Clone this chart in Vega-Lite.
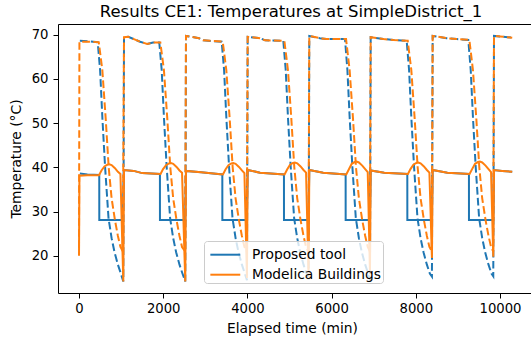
{
"$schema": "https://vega.github.io/schema/vega-lite/v6.json",
"autosize": {"type": "none"},
"width": 473,
"height": 269,
"padding": {"left": 58, "top": 24, "right": 0, "bottom": 52},
"background": "white",
"config": {
  "font": "DejaVu Sans",
  "view": {"stroke": "black", "strokeWidth": 1},
  "axis": {"domain": false, "grid": false, "tickColor": "black", "tickSize": 5, "tickWidth": 1, "labelColor": "black", "labelFontSize": 13.2, "labelFont": "DejaVu Sans", "titleFont": "DejaVu Sans", "titleFontSize": 13.8, "titleFontWeight": "normal", "titleColor": "black"}
},
"title": {"text": "Results CE1: Temperatures at SimpleDistrict_1", "fontSize": 16.5, "fontWeight": "normal", "font": "DejaVu Sans", "color": "black", "anchor": "middle", "frame": "group", "baseline": "alphabetic", "offset": -9, "dx": -3.5},
"datasets": {
  "bs": [
    {"t":20,"v":38.6},{"t":200,"v":38.4},{"t":481,"v":38.3},{"t":482,"v":28.1},{"t":1040,"v":28.1},
    {"t":1069,"v":39.4},{"t":1300,"v":39.2},{"t":1500,"v":38.7},{"t":1922,"v":38.5},{"t":1923,"v":28.1},{"t":2521,"v":28.1},
    {"t":2541,"v":39.2},{"t":2900,"v":38.9},{"t":3404,"v":38.4},{"t":3405,"v":28.1},{"t":3986,"v":28.1},
    {"t":4006,"v":39.4},{"t":4300,"v":38.8},{"t":4868,"v":38.4},{"t":4869,"v":28.1},{"t":5450,"v":28.1},
    {"t":5470,"v":39.4},{"t":5800,"v":38.8},{"t":6333,"v":38.4},{"t":6334,"v":28.1},{"t":6908,"v":28.1},
    {"t":6928,"v":39.3},{"t":7250,"v":38.8},{"t":7798,"v":38.5},{"t":7799,"v":28.1},{"t":8380,"v":28.1},
    {"t":8400,"v":39.4},{"t":8750,"v":38.8},{"t":9262,"v":38.5},{"t":9263,"v":28.1},{"t":9837,"v":28.1},
    {"t":9857,"v":39.4},{"t":10050,"v":39.2},{"t":10290,"v":39.0}
  ],
  "bd": [
    {"t":20,"v":68.6},{"t":250,"v":68.5},{"t":444,"v":68.3},{"t":501,"v":62},{"t":556,"v":51},{"t":620,"v":40},{"t":701,"v":28.5},{"t":774,"v":24},{"t":844,"v":20.8},{"t":924,"v":18},{"t":994,"v":16},{"t":1052,"v":14.2},
    {"t":1069,"v":69.4},{"t":1170,"v":69.5},{"t":1450,"v":68.4},{"t":1620,"v":67.9},{"t":1760,"v":68.2},{"t":1907,"v":68.2},{"t":1964,"v":62},{"t":2019,"v":51},{"t":2083,"v":40},{"t":2164,"v":28.5},{"t":2237,"v":24},{"t":2307,"v":20.8},{"t":2387,"v":18},{"t":2457,"v":16},{"t":2524,"v":14.2},
    {"t":2541,"v":69.7},{"t":2850,"v":69.2},{"t":2950,"v":68.7},{"t":3389,"v":68.4},{"t":3446,"v":62},{"t":3501,"v":51},{"t":3565,"v":40},{"t":3646,"v":28.5},{"t":3719,"v":24},{"t":3789,"v":20.8},{"t":3869,"v":18},{"t":3939,"v":16},{"t":3989,"v":14.5},
    {"t":4006,"v":69.5},{"t":4300,"v":69.2},{"t":4420,"v":68.7},{"t":4853,"v":68.6},{"t":4910,"v":62},{"t":4965,"v":51},{"t":5029,"v":40},{"t":5110,"v":28.5},{"t":5183,"v":24},{"t":5253,"v":20.8},{"t":5333,"v":18},{"t":5403,"v":16},{"t":5453,"v":14.5},
    {"t":5470,"v":69.7},{"t":5720,"v":69.2},{"t":5880,"v":69.0},{"t":6318,"v":69.0},{"t":6375,"v":62},{"t":6430,"v":51},{"t":6494,"v":40},{"t":6575,"v":28.5},{"t":6648,"v":24},{"t":6718,"v":20.8},{"t":6798,"v":18},{"t":6868,"v":16},{"t":6911,"v":14.6},
    {"t":6928,"v":69.4},{"t":7230,"v":69.0},{"t":7470,"v":68.8},{"t":7783,"v":68.6},{"t":7840,"v":62},{"t":7895,"v":51},{"t":7959,"v":40},{"t":8040,"v":28.5},{"t":8113,"v":24},{"t":8183,"v":20.8},{"t":8263,"v":18},{"t":8333,"v":16},{"t":8383,"v":15.3},
    {"t":8400,"v":69.7},{"t":8730,"v":69.2},{"t":8970,"v":69.0},{"t":9247,"v":68.8},{"t":9304,"v":62},{"t":9359,"v":51},{"t":9423,"v":40},{"t":9504,"v":28.5},{"t":9577,"v":24},{"t":9647,"v":20.8},{"t":9727,"v":18},{"t":9797,"v":16},{"t":9840,"v":15.4},
    {"t":9857,"v":69.7},{"t":10000,"v":69.6},{"t":10290,"v":69.3}
  ],
  "os": [
    {"t":0,"v":20},{"t":10,"v":38.1},{"t":200,"v":38.2},{"t":474,"v":38.2},{"t":534,"v":39.3},{"t":604,"v":40.2},{"t":674,"v":40.6},{"t":719,"v":40.7},{"t":774,"v":40.5},{"t":854,"v":39.8},{"t":924,"v":39.0},{"t":984,"v":38.5},{"t":1052,"v":14.2},
    {"t":1069,"v":39.4},{"t":1300,"v":39.2},{"t":1500,"v":38.7},{"t":1937,"v":38.5},{"t":1997,"v":39.6},{"t":2067,"v":40.5},{"t":2137,"v":40.9},{"t":2182,"v":41.0},{"t":2237,"v":40.8},{"t":2317,"v":40.1},{"t":2387,"v":39.3},{"t":2447,"v":38.8},{"t":2524,"v":14.2},
    {"t":2541,"v":39.2},{"t":2900,"v":38.9},{"t":3419,"v":38.4},{"t":3479,"v":39.5},{"t":3549,"v":40.5},{"t":3619,"v":40.9},{"t":3664,"v":41.0},{"t":3719,"v":40.8},{"t":3799,"v":40.1},{"t":3869,"v":39.3},{"t":3929,"v":38.7},{"t":3989,"v":15.0},
    {"t":4006,"v":39.4},{"t":4300,"v":38.8},{"t":4883,"v":38.4},{"t":4943,"v":39.5},{"t":5013,"v":40.6},{"t":5083,"v":41.0},{"t":5128,"v":41.1},{"t":5183,"v":40.9},{"t":5263,"v":40.2},{"t":5333,"v":39.4},{"t":5393,"v":38.8},{"t":5453,"v":15.0},
    {"t":5470,"v":39.4},{"t":5800,"v":38.8},{"t":6348,"v":38.4},{"t":6408,"v":39.5},{"t":6478,"v":40.8},{"t":6548,"v":41.2},{"t":6593,"v":41.3},{"t":6648,"v":41.1},{"t":6728,"v":40.4},{"t":6798,"v":39.6},{"t":6858,"v":38.9},{"t":6911,"v":16.0},
    {"t":6928,"v":39.3},{"t":7250,"v":38.8},{"t":7813,"v":38.5},{"t":7873,"v":39.6},{"t":7943,"v":40.6},{"t":8013,"v":41.0},{"t":8058,"v":41.1},{"t":8113,"v":40.9},{"t":8193,"v":40.2},{"t":8263,"v":39.4},{"t":8323,"v":38.8},{"t":8383,"v":19.5},
    {"t":8400,"v":39.4},{"t":8750,"v":38.8},{"t":9277,"v":38.5},{"t":9337,"v":39.6},{"t":9407,"v":40.8},{"t":9477,"v":41.2},{"t":9522,"v":41.3},{"t":9577,"v":41.1},{"t":9657,"v":40.4},{"t":9727,"v":39.6},{"t":9787,"v":38.9},{"t":9840,"v":19.8},
    {"t":9857,"v":39.4},{"t":10050,"v":39.2},{"t":10290,"v":39.0}
  ],
  "od": [
    {"t":0,"v":21.8},{"t":10,"v":68.4},{"t":250,"v":68.4},{"t":469,"v":68.3},{"t":554,"v":62},{"t":634,"v":51},{"t":705,"v":40},{"t":774,"v":33},{"t":855,"v":28},{"t":924,"v":24.5},{"t":984,"v":22},{"t":1040,"v":21},
    {"t":1069,"v":69.4},{"t":1170,"v":69.5},{"t":1450,"v":68.4},{"t":1620,"v":67.9},{"t":1760,"v":68.2},{"t":1932,"v":68.2},{"t":2017,"v":62},{"t":2097,"v":51},{"t":2168,"v":40},{"t":2237,"v":33},{"t":2318,"v":28},{"t":2387,"v":24.5},{"t":2447,"v":22},{"t":2521,"v":21},
    {"t":2541,"v":69.7},{"t":2850,"v":69.2},{"t":2950,"v":68.7},{"t":3414,"v":68.4},{"t":3499,"v":62},{"t":3579,"v":51},{"t":3650,"v":40},{"t":3719,"v":33},{"t":3800,"v":28},{"t":3869,"v":24.5},{"t":3929,"v":22},{"t":3986,"v":21},
    {"t":4006,"v":69.5},{"t":4300,"v":69.2},{"t":4420,"v":68.7},{"t":4878,"v":68.6},{"t":4963,"v":62},{"t":5043,"v":51},{"t":5114,"v":40},{"t":5183,"v":33},{"t":5264,"v":28},{"t":5333,"v":24.5},{"t":5393,"v":22},{"t":5450,"v":21},
    {"t":5470,"v":69.7},{"t":5720,"v":69.2},{"t":5880,"v":69.0},{"t":6343,"v":69.0},{"t":6428,"v":62},{"t":6508,"v":51},{"t":6579,"v":40},{"t":6648,"v":33},{"t":6729,"v":28},{"t":6798,"v":24.5},{"t":6858,"v":22},{"t":6908,"v":21},
    {"t":6928,"v":69.4},{"t":7230,"v":69.0},{"t":7470,"v":68.8},{"t":7808,"v":68.6},{"t":7893,"v":62},{"t":7973,"v":51},{"t":8044,"v":40},{"t":8113,"v":33},{"t":8194,"v":28},{"t":8263,"v":24.5},{"t":8323,"v":22},{"t":8380,"v":21},
    {"t":8400,"v":69.7},{"t":8730,"v":69.2},{"t":8970,"v":69.0},{"t":9272,"v":68.8},{"t":9357,"v":62},{"t":9437,"v":51},{"t":9508,"v":40},{"t":9577,"v":33},{"t":9658,"v":28},{"t":9727,"v":24.5},{"t":9787,"v":22},{"t":9837,"v":21},
    {"t":9857,"v":69.7},{"t":10000,"v":69.6},{"t":10290,"v":69.3}
  ]
},
"encoding": {
  "x": {"field": "t", "type": "quantitative", "scale": {"domain": [-499, 10736], "nice": false, "zero": false}, "axis": {"values": [0, 2000, 4000, 6000, 8000, 10000], "format": "d", "title": "Elapsed time (min)", "labelPadding": 4, "titleX": 234, "titleY": 39, "titleBaseline": "alphabetic"}},
  "y": {"field": "v", "type": "quantitative", "scale": {"domain": [11.6, 72.4], "nice": false, "zero": false}, "axis": {"values": [20, 30, 40, 50, 60, 70], "title": "Temperature (°C)", "labelPadding": 5, "titleX": -38, "titleBaseline": "alphabetic"}},
  "color": {"datum": "Proposed tool", "type": "nominal", "scale": {"domain": ["Proposed tool", "Modelica Buildings"], "range": ["#1f77b4", "#ff7f0e"]},
    "legend": {"title": null, "orient": "none", "legendX": 146, "legendY": 217, "symbolType": "M-1.3,0H1.3", "symbolSize": 529, "symbolOffset": 7.6, "symbolStrokeWidth": 2, "symbolDash": [], "labelFontSize": 13.8, "labelFont": "DejaVu Sans", "labelColor": "black", "labelOffset": 14.2, "padding": 1.2, "rowPadding": -2.4, "fillColor": "rgba(255,255,255,0.8)", "strokeColor": "#cccccc", "cornerRadius": 3}}
},
"layer": [
  {"data": {"name": "bs"}, "mark": {"type": "line", "strokeWidth": 2, "clip": true}, "encoding": {"color": {"datum": "Proposed tool", "type": "nominal"}}},
  {"data": {"name": "bd"}, "mark": {"type": "line", "strokeWidth": 2, "strokeDash": [7.7, 3.3], "clip": true}, "encoding": {"color": {"datum": "Proposed tool", "type": "nominal"}}},
  {"data": {"name": "os"}, "mark": {"type": "line", "strokeWidth": 2, "clip": true}, "encoding": {"color": {"datum": "Modelica Buildings", "type": "nominal"}}},
  {"data": {"name": "od"}, "mark": {"type": "line", "strokeWidth": 2, "strokeDash": [7.7, 3.3], "clip": true}, "encoding": {"color": {"datum": "Modelica Buildings", "type": "nominal"}}}
]
}
